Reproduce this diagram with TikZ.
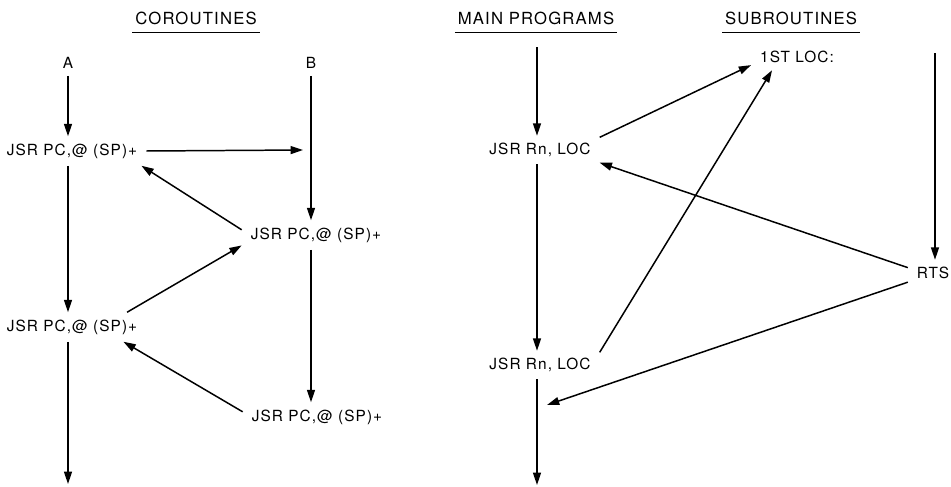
\documentclass[tikz,border=0pt]{standalone}
\usepackage{fontspec}
\usetikzlibrary{arrows.meta, calc}
\newfontfamily\dgmfont[LetterSpace=7]{TeX Gyre Heros}

\begin{document}
\begin{tikzpicture}[
    x=0.02cm, y=-0.02cm,
    >={Triangle[length=7pt, width=4.5pt]},
    % --- Node styles ---
    lbl/.style={
        inner xsep=5pt, inner ysep=4pt,
        font=\dgmfont\fontsize{8.75}{10}\selectfont
    },
    hd/.style={
        inner xsep=1.5pt, inner ysep=4.5pt,
        font=\dgmfont\fontsize{9.5}{11}\selectfont
    },
    % --- Line styles ---
    arr/.style={->, line width=0.85pt},
    uline/.style={line width=0.7pt},
]

\useasboundingbox (0, 0) rectangle (951, 487);

% =============================================
% HEADINGS
% =============================================

\node[hd] (hco) at (196, 18) {COROUTINES};
\node[hd] (hmp) at (536, 18) {MAIN PROGRAMS};
\node[hd] (hsu) at (791, 18) {SUBROUTINES};

\draw[uline] (hco.south west) -- (hco.south east);
\draw[uline] (hmp.south west) -- (hmp.south east);
\draw[uline] (hsu.south west) -- (hsu.south east);

% =============================================
% COROUTINES (left)
% =============================================

\node[lbl] (nA) at (68, 63)  {A};
\node[lbl] (nB) at (311, 63) {B};

\node[lbl] (j1) at (72, 151)  {JSR PC,@ (SP)+};
\node[lbl] (j2) at (316, 235) {JSR PC,@ (SP)+};
\node[lbl] (j3) at (72, 327)  {JSR PC,@ (SP)+};
\node[lbl] (j4) at (317, 417) {JSR PC,@ (SP)+};

\coordinate (b1) at (303, 150);
\coordinate (eA) at (68, 484);

% coroutine A flow
\draw[arr] (nA.south) -- (nA |- j1.north);
\draw[arr] (nA |- j1.south) -- (nA |- j3.north);
\draw[arr] (nA |- j3.south) -- (eA);

% coroutine B flow
\draw[arr] (nB.south) -- (nB |- j2.north);
\draw[arr] (nB |- j2.south) -- (nB |- j4.north);

% switches between A and B
\draw[arr] (j1.east) -- (b1);
\draw[arr] (j2.176) -- (j1.-12);
\draw[arr] (j3.15) -- (j2.188);
\draw[arr] (j4.176) -- (j3.-16);

% =============================================
% MAIN PROGRAMS / SUBROUTINES (right)
% =============================================

\node[lbl] (r1)  at (540, 150) {JSR Rn, LOC};
\node[lbl] (r2)  at (540, 365) {JSR Rn, LOC};
\node[lbl] (loc) at (797, 57)  {1ST LOC:};
\node[lbl] (rts) at (933, 273) {RTS};

\coordinate (mtop) at (537, 47);
\coordinate (mbot) at (537, 485);
\coordinate (stop) at (935, 53);
\coordinate (mret) at (547, 405);

% main program flow
\draw[arr] (mtop) -- (mtop |- r1.north);
\draw[arr] (mtop |- r1.south) -- (mtop |- r2.north);
\draw[arr] (mtop |- r2.south) -- (mbot);

% subroutine flow
\draw[arr] (stop) -- (stop |- rts.north);

% calls and returns
\draw[arr] (r1.12) -- (loc.190);
\draw[arr] (r2.12) -- (loc.208);
\draw[arr] (rts.168) -- (r1.-12);
\draw[arr] (rts.200) -- (mret);

\end{tikzpicture}
\end{document}
